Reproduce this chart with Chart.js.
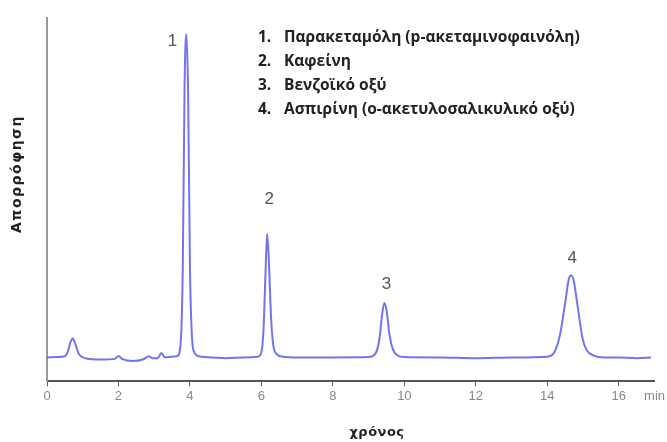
<!DOCTYPE html>
<html>
<head>
<meta charset="utf-8">
<script src="https://cdn.jsdelivr.net/npm/chart.js@4.4.1/dist/chart.umd.min.js"></script>
<style>
  html, body { margin: 0; padding: 0; background: #fff; }
</style>
</head>
<body>
<canvas id="chromChart" width="667" height="442"></canvas>
<script>
// Chromatogram trace (time in min, absorbance in arbitrary units)
const times = [
  0, 0.3, 0.5, 0.58, 0.65, 0.72, 0.8, 0.88, 0.95, 1.1, 1.5, 1.9, 2.0, 2.1, 2.4, 2.7, 2.85, 2.95,
  3.1, 3.2, 3.3, 3.5, 3.65, 3.74, 3.8, 3.85, 3.9, 3.95, 4.0, 4.06, 4.12, 4.25, 4.6, 5.0, 5.5,
  5.9, 6.0, 6.06, 6.11, 6.16, 6.21, 6.27, 6.33, 6.42, 6.6, 7.0, 8.0, 9.0, 9.2, 9.3, 9.38, 9.44,
  9.5, 9.58, 9.68, 9.8, 10.0, 11.0, 12.0, 13.0, 14.0, 14.2, 14.35, 14.5, 14.6, 14.67, 14.74,
  14.85, 14.98, 15.1, 15.3, 15.6, 16.0, 16.5, 16.9
];
const absorbance = [
  0, 0.1, 0.3, 1.5, 4, 5.2, 3.5, 1.2, 0.3, -0.3, -0.6, -0.4, 0.4, -0.4, -1.0, -0.5, 0.3, -0.2,
  -0.2, 1.2, 0, 0.2, 0.4, 4, 25, 75, 89, 72, 25, 5, 1.5, 0.3, 0, -0.2, 0,
  0.2, 1.5, 8, 22, 34, 26, 11, 3.5, 1, 0.2, 0, 0, 0.1, 1.2, 5, 12, 15,
  13, 6.5, 2.2, 0.6, 0.1, 0, -0.2, 0, 0.2, 1.5, 6, 15, 21.5, 22.6, 21,
  14, 5.5, 2, 0.5, 0, 0, -0.2, 0
];

// Peak annotations
const peakNumbers = ["1", "2", "3", "4"];
const peakTimes = [3.9, 6.16, 9.44, 14.67];
const peakHeights = [89, 34, 15, 22.6];
const compounds = [
  "Παρακεταμόλη (p-ακεταμινοφαινόλη)",
  "Καφείνη",
  "Βενζοϊκό οξύ",
  "Ασπιρίνη (ο-ακετυλοσαλικυλικό οξύ)"
];

// Axes
const xTickValues = [0, 2, 4, 6, 8, 10, 12, 14, 16, 17];
const xUnit = "min";
const xTitle = "χρόνος";
const yTitle = "Απορρόφηση";

const points = times.map((t, i) => ({ x: t, y: absorbance[i] }));

const overlay = {
  id: "overlay",
  afterDraw(chart) {
    const { ctx, scales: { x, y } } = chart;
    ctx.save();

    // peak numbers
    ctx.font = '17px "Liberation Sans Narrow", "Liberation Sans", sans-serif';
    ctx.fillStyle = "#555";
    ctx.textAlign = "center";
    ctx.textBaseline = "middle";
    const offsets = [[-14, 7], [2, -35], [2, -19], [1, -17]];
    peakNumbers.forEach((n, i) => {
      ctx.fillText(n,
        x.getPixelForValue(peakTimes[i]) + offsets[i][0],
        y.getPixelForValue(peakHeights[i]) + offsets[i][1]);
    });

    // compound list
    ctx.font = 'bold 15.5px "Open Sans", sans-serif';
    ctx.fillStyle = "#222";
    ctx.textAlign = "left";
    compounds.forEach((c, i) => {
      const rowY = 38 + i * 24;
      ctx.fillText((i + 1) + ".", 258, rowY);
      ctx.fillText(c, 284, rowY);
    });

    // axis titles
    ctx.fillStyle = "#222";
    ctx.textAlign = "center";
    ctx.font = 'bold 13px "DejaVu Sans", sans-serif';
    ctx.letterSpacing = "0.5px";
    ctx.fillText(xTitle, 377, 433);
    ctx.font = 'bold 14px "DejaVu Sans", sans-serif';
    ctx.letterSpacing = "1.5px";
    ctx.translate(17, 174);
    ctx.rotate(-Math.PI / 2);
    ctx.fillText(yTitle, 0, 0);

    ctx.restore();
  }
};

new Chart(document.getElementById("chromChart"), {
  type: "line",
  data: {
    datasets: [{
      data: points,
      borderColor: "rgba(90, 90, 240, 0.85)",
      borderWidth: 2,
      pointRadius: 0,
      cubicInterpolationMode: "monotone",
      fill: false
    }]
  },
  options: {
    responsive: false,
    animation: false,
    layout: { padding: { left: 47, right: 0, top: 18, bottom: 36 } },
    plugins: {
      legend: { display: false },
      tooltip: { enabled: false }
    },
    scales: {
      x: {
        type: "linear",
        min: 0,
        max: 17,
        afterBuildTicks: (axis) => {
          axis.ticks = xTickValues.map(v => ({ value: v }));
        },
        ticks: {
          autoSkip: false,
          maxRotation: 0,
          padding: 2,
          color: "#888",
          font: { family: '"Liberation Sans Narrow", "Liberation Sans", sans-serif', size: 13 },
          callback: (v) => (v === 17 ? xUnit : v)
        },
        grid: {
          drawOnChartArea: false,
          tickLength: 5,
          color: (c) => (c.tick && c.tick.value === 17 ? "rgba(0,0,0,0)" : "#666")
        },
        border: { color: "#555", width: 2 }
      },
      y: {
        min: -6.6,
        max: 93.4,
        ticks: { display: false },
        grid: { display: false, drawTicks: false },
        border: { color: "#999", width: 2 }
      }
    }
  },
  plugins: [overlay]
});
</script>
</body>
</html>
